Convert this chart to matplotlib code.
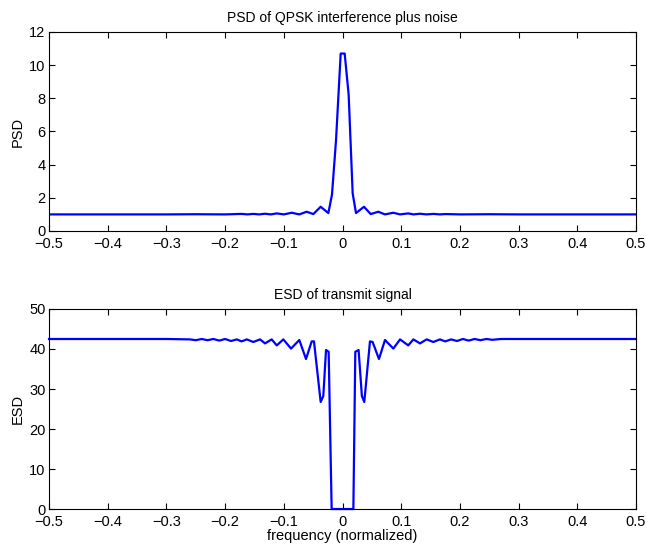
import matplotlib
matplotlib.use("Agg")
import matplotlib.pyplot as plt

plt.rcParams['font.family'] = ['Liberation Sans', 'DejaVu Sans']
plt.rcParams['font.size'] = 10

# PSD of QPSK interference plus noise
psd_freq = [-0.5, -0.4, -0.3, -0.25, -0.2, -0.172, -0.162, -0.152, -0.142, -0.132,
            -0.122, -0.112, -0.1, -0.0866, -0.0736, -0.061, -0.0497, -0.0372, -0.0241, -0.0179,
            -0.011, -0.0031, 0.0037, 0.0105, 0.0173, 0.023, 0.0366, 0.048, 0.061, 0.0724,
            0.0866, 0.098, 0.112, 0.121, 0.132, 0.143, 0.155, 0.166, 0.176, 0.2,
            0.25, 0.3, 0.4, 0.5]
psd_val = [1.0, 1.0, 1.0, 1.01, 1.0, 1.03, 1.0, 1.03, 1.0, 1.04,
           1.0, 1.06, 1.0, 1.10, 1.0, 1.16, 1.02, 1.46, 1.08, 2.2,
           5.5, 10.7, 10.7, 8.2, 2.27, 1.08, 1.46, 1.02, 1.16, 1.0,
           1.10, 1.0, 1.06, 1.0, 1.04, 1.0, 1.03, 1.0, 1.02, 1.0,
           1.01, 1.0, 1.0, 1.0]

# ESD of transmit signal
esd_freq = [-0.5, -0.3, -0.26, -0.25, -0.24, -0.23, -0.22, -0.21, -0.2, -0.19,
            -0.18, -0.172, -0.163, -0.152, -0.1405, -0.132, -0.1207, -0.112, -0.1008, -0.0877,
            -0.0736, -0.0622, -0.0525, -0.0486, -0.0372, -0.0327, -0.0281, -0.0236, -0.0185, 0.0185,
            0.0218, 0.0274, 0.033, 0.0371, 0.0468, 0.0513, 0.0621, 0.0724, 0.0866, 0.098,
            0.112, 0.1207, 0.132, 0.1434, 0.1547, 0.166, 0.175, 0.185, 0.195, 0.205,
            0.215, 0.225, 0.235, 0.245, 0.255, 0.27, 0.3, 0.5]
esd_val = [42.5, 42.5, 42.4, 42.2, 42.5, 42.2, 42.5, 42.1, 42.5, 42.0,
           42.4, 41.9, 42.4, 41.75, 42.4, 41.4, 42.4, 40.9, 42.4, 40.1,
           42.25, 37.5, 41.9, 41.9, 26.75, 28.25, 39.75, 39.3, 0, 0,
           39.3, 39.75, 28.25, 26.75, 41.9, 41.75, 37.5, 42.25, 40.1, 42.4,
           40.9, 42.4, 41.4, 42.4, 41.75, 42.4, 41.9, 42.4, 42.0, 42.5,
           42.1, 42.5, 42.2, 42.5, 42.3, 42.5, 42.5, 42.5]

xticks = [-0.5, -0.4, -0.3, -0.2, -0.1, 0, 0.1, 0.2, 0.3, 0.4, 0.5]
xticklabels = ['\u22120.5', '\u22120.4', '\u22120.3', '\u22120.2', '\u22120.1', '0',
               '0.1', '0.2', '0.3', '0.4', '0.5']

fig = plt.figure(figsize=(6.46, 5.44), dpi=100)
ax1 = fig.add_axes([0.0759, 0.5754, 0.9086, 0.3658])
ax2 = fig.add_axes([0.0759, 0.0643, 0.9086, 0.3677])


def style(ax):
    ax.set_xlim(-0.5, 0.5)
    ax.set_xticks(xticks)
    ax.set_xticklabels(xticklabels)
    ax.tick_params(direction='in', length=4.5, width=0.8, top=True, right=True,
                   labelsize=10.5)
    ax.tick_params(axis='x', pad=4.5)
    ax.tick_params(axis='y', pad=2.5)
    for s in ax.spines.values():
        s.set_linewidth(0.8)


ax1.plot(psd_freq, psd_val, color='#0000ff', lw=1.6)
style(ax1)
ax1.set_ylim(0, 12)
ax1.set_yticks([0, 2, 4, 6, 8, 10, 12])
ax1.set_title("PSD of QPSK interference plus noise", fontsize=10, pad=7)
ax1.set_ylabel("PSD", fontsize=10.5, labelpad=3)

ax2.plot(esd_freq, esd_val, color='#0000ff', lw=1.6, clip_on=False)
style(ax2)
ax2.set_ylim(0, 50)
ax2.set_yticks([0, 10, 20, 30, 40, 50])
ax2.set_title("ESD of transmit signal", fontsize=10, pad=7)
ax2.set_ylabel("ESD", fontsize=10.5, labelpad=3)
ax2.set_xlabel("frequency (normalized)", fontsize=10.5, labelpad=0)

fig.savefig("out.png", dpi=100)
